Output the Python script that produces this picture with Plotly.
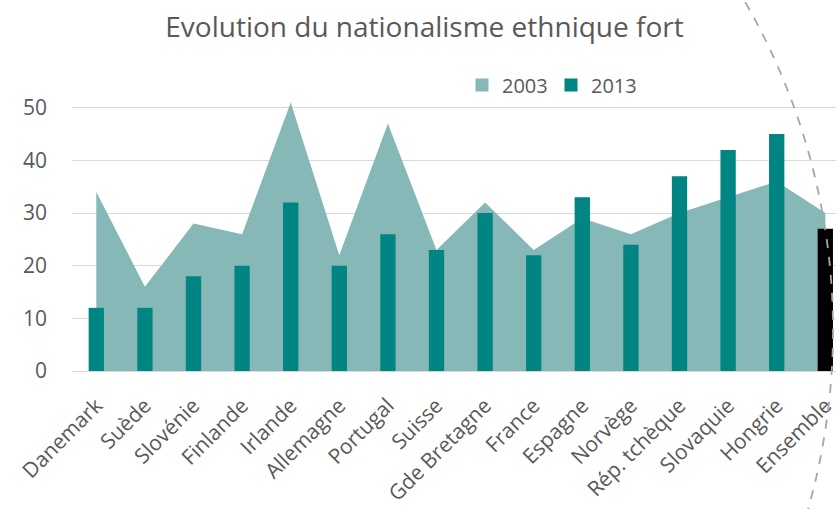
import plotly.graph_objects as go

categories = ["Danemark", "Suède", "Slovénie", "Finlande", "Irlande", "Allemagne",
              "Portugal", "Suisse", "Gde Bretagne", "France", "Espagne", "Norvège",
              "Rép. tchèque", "Slovaquie", "Hongrie", "Ensemble"]
values_2003 = [34, 16, 28, 26, 51, 22, 47, 23, 32, 23, 29, 26, 30, 33, 36, 30]
values_2013 = [12, 12, 18, 20, 32, 20, 26, 23, 30, 22, 33, 24, 37, 42, 45, 27]
series_names = ["2003", "2013"]
y_ticks = [0, 10, 20, 30, 40, 50]
title_text = "Evolution du nationalisme ethnique fort"

C_AREA = "#86b8b8"
C_BAR = "#008583"
C_TEXT = "#595959"
FONT = "Open Sans"

W, H = 836, 509
L, R, T, B = 72, 0, 92, 138
plot_w = W - L - R
plot_h = H - T - B
X_RANGE = [-0.5, 15.22]
Y_RANGE = [0, 53]

bar_colors = [C_BAR] * (len(categories) - 1) + ["#000000"]

fig = go.Figure()
# 2003 area on the main subplot (drawn first, underneath)
fig.add_trace(go.Scatter(
    x=categories, y=values_2003, mode="lines", fill="tozeroy",
    fillcolor=C_AREA, line=dict(width=0, color=C_AREA),
    showlegend=False, name=series_names[0]))
# 2013 bars on an overlaying subplot so they sit above the area
fig.add_trace(go.Bar(
    x=categories, y=values_2013, xaxis="x2", yaxis="y2",
    marker=dict(color=bar_colors, line=dict(width=0)),
    width=0.315, showlegend=False, name=series_names[1]))
# legend entries
fig.add_trace(go.Scatter(x=[None], y=[None], mode="markers", name=series_names[0],
                         marker=dict(symbol="square", size=13, color=C_AREA)))
fig.add_trace(go.Scatter(x=[None], y=[None], mode="markers", name=series_names[1],
                         marker=dict(symbol="square", size=13, color=C_BAR)))

def px_to_paper_x(px):
    return (px - L) / plot_w
def py_to_paper_y(py):
    return (H - B - py) / plot_h

# dashed arc (decorative)
cx, cy, rad = 176.7, 330.0, 656.3
fig.add_shape(type="circle", xref="paper", yref="paper",
              x0=px_to_paper_x(cx - rad), x1=px_to_paper_x(cx + rad),
              y0=py_to_paper_y(cy + rad), y1=py_to_paper_y(cy - rad),
              line=dict(color="#a6a6a6", width=1.8, dash="dash"),
              fillcolor="rgba(0,0,0,0)", layer="above")

fig.update_layout(
    width=W, height=H,
    margin=dict(l=L, r=R, t=T, b=B, autoexpand=False),
    paper_bgcolor="white", plot_bgcolor="white",
    font=dict(family=FONT, color=C_TEXT),
    title=dict(text=title_text, x=424.5 / W, xanchor="center",
               y=1 - 27 / H, yanchor="middle",
               font=dict(size=28, color=C_TEXT, family=FONT)),
    legend=dict(orientation="h", x=px_to_paper_x(462), xanchor="left",
                y=py_to_paper_y(85), yanchor="middle",
                font=dict(size=20, color=C_TEXT),
                bgcolor="rgba(0,0,0,0)", entrywidth=44, entrywidthmode="pixels",
                itemclick=False),
    showlegend=True,
    xaxis=dict(type="category", range=X_RANGE, showgrid=False, automargin=False,
               showline=True, linecolor="#d9d9d9", linewidth=1,
               tickangle=-45, tickfont=dict(size=21, color=C_TEXT),
               ticks="", ticklabelstandoff=13, fixedrange=True),
    yaxis=dict(range=Y_RANGE, tickvals=y_ticks, showgrid=True, automargin=False,
               gridcolor="#d9d9d9", gridwidth=1, zeroline=False,
               showline=False, ticks="", tickfont=dict(size=21, color=C_TEXT),
               ticklabelstandoff=24, fixedrange=True),
    xaxis2=dict(type="category", range=X_RANGE, overlaying="x", visible=False,
                matches="x", fixedrange=True),
    yaxis2=dict(range=Y_RANGE, overlaying="y", visible=False, fixedrange=True),
)

fig.write_html("out.html", config={"displayModeBar": False},
               post_script="document.body.style.margin='0';document.body.style.overflow='hidden';")
